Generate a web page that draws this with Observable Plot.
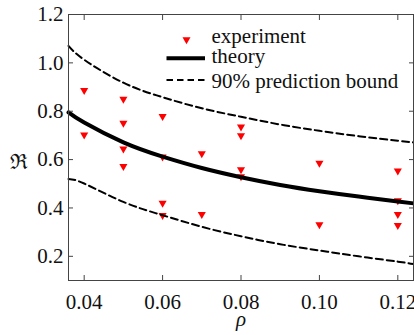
<!DOCTYPE html>
<html><head><meta charset="utf-8">
<script src="https://cdn.jsdelivr.net/npm/d3@7"></script>
<script src="https://cdn.jsdelivr.net/npm/@observablehq/plot@0.6"></script>
<style>
body{margin:0;background:#fff}
#wrap{position:relative;width:414px;height:335px}
#legend{position:absolute;left:0;top:0;pointer-events:none}
</style>
</head><body><div id="wrap"></div>
<script>
// ---- data ----
const rhoTicks = [0.04, 0.06, 0.08, 0.10, 0.12];
const rTicks = [0.2, 0.4, 0.6, 0.8, 1.0, 1.2];

const expRho = [0.04, 0.04,
  0.05, 0.05, 0.05, 0.05,
  0.06, 0.06, 0.06, 0.06,
  0.07, 0.07,
  0.08, 0.08, 0.08, 0.08,
  0.10, 0.10,
  0.12, 0.12, 0.12, 0.12];
const expR = [0.886, 0.702,
  0.850, 0.751, 0.644, 0.572,
  0.779, 0.611, 0.420, 0.369,
  0.625, 0.374,
  0.735, 0.699, 0.559, 0.530,
  0.586, 0.331,
  0.553, 0.430, 0.374, 0.328];

const curveRho = [0.036, 0.04, 0.05, 0.06, 0.07, 0.08, 0.09, 0.10, 0.11, 0.12, 0.124];
const theoryR  = [0.795, 0.753, 0.671, 0.612, 0.565, 0.527, 0.495, 0.469, 0.447, 0.427, 0.419];
const upperR   = [1.070, 1.013, 0.918, 0.858, 0.812, 0.777, 0.745, 0.719, 0.697, 0.678, 0.671];
const lowerR   = [0.520, 0.501, 0.425, 0.370, 0.322, 0.283, 0.250, 0.224, 0.200, 0.178, 0.168];

const legendLabels = ["experiment", "theory", "90% prediction bound"];
const xLabel = "ρ";
const yLabel = "ℜ";

// ---- tables ----
const experiment = expRho.map((x, i) => ({x, y: expR[i]}));
const curves = curveRho.map((x, i) => ({x, theory: theoryR[i], upper: upperR[i], lower: lowerR[i]}));

const font = "'Liberation Serif', 'Times New Roman', 'DejaVu Serif', serif";
const frameColor = "#444";

const chart = Plot.plot({
  width: 414, height: 335,
  marginLeft: 68, marginRight: 1, marginTop: 14, marginBottom: 55,
  style: {fontFamily: font, fontSize: "21px", color: "#111", background: "white"},
  x: {domain: [0.036, 0.124]},
  y: {domain: [0.1, 1.2]},
  marks: [
    Plot.dot(experiment, {x: "x", y: "y", symbol: "triangle", r: 3, fill: "red", stroke: "none", rotate: 180}),
    Plot.line(curves, {x: "x", y: "upper", stroke: "black", strokeWidth: 2, strokeDasharray: "7,4", curve: "natural"}),
    Plot.line(curves, {x: "x", y: "lower", stroke: "black", strokeWidth: 2, strokeDasharray: "7,4", curve: "natural"}),
    Plot.line(curves, {x: "x", y: "theory", stroke: "black", strokeWidth: 4, curve: "natural"}),
    Plot.frame({stroke: frameColor}),
    Plot.axisX(rhoTicks, {anchor: "bottom", tickSize: 0, tickPadding: 14, tickFormat: d3.format(".2f"), label: null}),
    Plot.axisX(rhoTicks, {anchor: "bottom", tickSize: -5, tickFormat: () => "", label: null, stroke: frameColor}),
    Plot.axisX(rhoTicks, {anchor: "top", tickSize: -5, tickFormat: () => "", label: null, stroke: frameColor}),
    Plot.axisY(rTicks, {anchor: "left", tickSize: 0, tickPadding: 5, tickFormat: d3.format(".1f"), label: null}),
    Plot.axisY(rTicks, {anchor: "left", tickSize: -5, tickFormat: () => "", label: null, stroke: frameColor}),
    Plot.axisY(rTicks, {anchor: "right", tickSize: -5, tickFormat: () => "", label: null, stroke: frameColor}),
    Plot.text([yLabel], {frameAnchor: "left", textAnchor: "middle", lineAnchor: "middle", dx: -49.5, dy: 15, fontSize: 21, fontFamily: font, fill: "#111"}),
    Plot.text([xLabel], {frameAnchor: "bottom", textAnchor: "middle", lineAnchor: "middle", dy: 39, fontSize: 21, fontFamily: font, fontStyle: "italic", fill: "#111"})
  ]
});
document.getElementById("wrap").appendChild(chart);

// ---- legend (overlay) ----
const lg = d3.select("#wrap").append("svg").attr("id", "legend")
  .attr("width", 414).attr("height", 335)
  .style("font-family", font).style("font-size", "21px");
lg.append("path").attr("d", "M182.5,37.3 L190.5,37.3 L186.5,44.2 Z").attr("fill", "red");
lg.append("line").attr("x1", 166.5).attr("x2", 205).attr("y1", 58.3).attr("y2", 58.3)
  .attr("stroke", "black").attr("stroke-width", 4);
lg.append("line").attr("x1", 166.5).attr("x2", 205).attr("y1", 80).attr("y2", 80)
  .attr("stroke", "black").attr("stroke-width", 2).attr("stroke-dasharray", "6.5,4");
const ys = [43, 63, 88];
legendLabels.forEach((t, i) => {
  lg.append("text").attr("x", 211.5).attr("y", ys[i]).attr("fill", "#111").text(t);
});
</script>
</body></html>
